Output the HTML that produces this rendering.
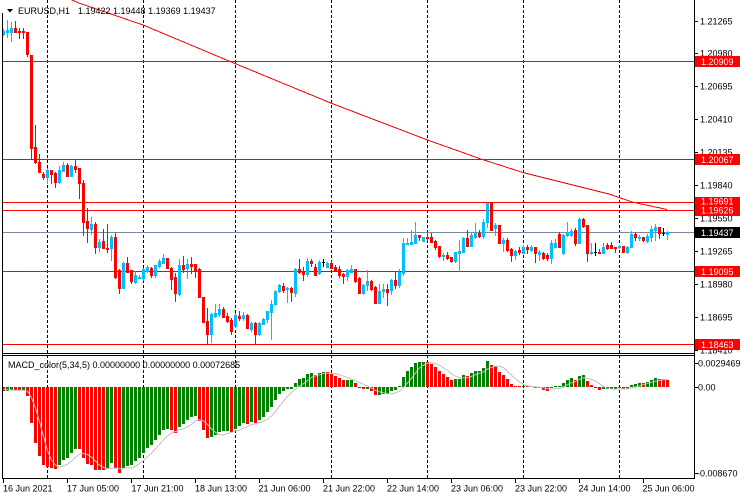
<!DOCTYPE html>
<html>
<head>
<meta charset="utf-8">
<style>
html,body{margin:0;padding:0;background:#fff;}
svg{display:block;}
text{font-family:"Liberation Sans",Arial,sans-serif;font-size:9px;fill:#000;}
</style>
</head>
<body>
<svg id="chart" width="740" height="500" viewBox="0 0 740 500" xmlns="http://www.w3.org/2000/svg">
<defs>
<clipPath id="cpMain"><rect x="3" y="0" width="691" height="353"/></clipPath>
<clipPath id="cpMacd"><rect x="3" y="356" width="691" height="122"/></clipPath>
</defs>
<rect x="0" y="0" width="740" height="500" fill="#fff"/>

<!-- vertical grid -->
<g stroke="#000" stroke-width="1" stroke-dasharray="3,2" shape-rendering="crispEdges">
<line x1="47.5" y1="0" x2="47.5" y2="478"/>
<line x1="143.5" y1="0" x2="143.5" y2="478"/>
<line x1="235.5" y1="0" x2="235.5" y2="478"/>
<line x1="331.5" y1="0" x2="331.5" y2="478"/>
<line x1="427.5" y1="0" x2="427.5" y2="478"/>
<line x1="523.5" y1="0" x2="523.5" y2="478"/>
<line x1="619.5" y1="0" x2="619.5" y2="478"/>
</g>

<!-- horizontal level lines -->
<g stroke-width="1" shape-rendering="crispEdges">
<line x1="3" y1="61.5" x2="694" y2="61.5" stroke="#FF0000"/>
<line x1="3" y1="159.5" x2="694" y2="159.5" stroke="#FF0000"/>
<line x1="3" y1="202.5" x2="694" y2="202.5" stroke="#FF0000"/>
<line x1="3" y1="210.5" x2="694" y2="210.5" stroke="#FF0000"/>
<line x1="3" y1="271.5" x2="694" y2="271.5" stroke="#FF0000"/>
<line x1="3" y1="344.5" x2="694" y2="344.5" stroke="#FF0000"/>
<line x1="3" y1="232.5" x2="694" y2="232.5" stroke="#778899"/>
</g>

<!-- moving average -->
<g clip-path="url(#cpMain)">
<polyline fill="none" stroke="#FF0000" stroke-width="1" shape-rendering="crispEdges"
points="70,-1 78,2.7 143,25 232,62.3 331.5,103.3 427.5,140 481.7,159.3 523.5,172.7 610,194.3 632,202 667,209.5"/>
<g id="candles" shape-rendering="crispEdges"></g>
</g>

<g clip-path="url(#cpMacd)">
<g id="macd" shape-rendering="crispEdges"></g>
<polyline id="sig" fill="none" stroke="#C0C0C0" stroke-width="1" points=""/>
</g>

<!-- frames -->
<g stroke="#000" stroke-width="1" shape-rendering="crispEdges">
<line x1="2.5" y1="13" x2="2.5" y2="479"/>
<line x1="694.5" y1="0" x2="694.5" y2="479"/>
<line x1="2" y1="353.5" x2="695" y2="353.5"/>
<line x1="2" y1="355.5" x2="695" y2="355.5"/>
<line x1="2" y1="478.5" x2="695" y2="478.5"/>
<!-- price ticks -->
<line x1="694" y1="21.5" x2="698" y2="21.5"/>
<line x1="694" y1="53.5" x2="698" y2="53.5"/>
<line x1="694" y1="86.5" x2="698" y2="86.5"/>
<line x1="694" y1="119.5" x2="698" y2="119.5"/>
<line x1="694" y1="152.5" x2="698" y2="152.5"/>
<line x1="694" y1="185.5" x2="698" y2="185.5"/>
<line x1="694" y1="218.5" x2="698" y2="218.5"/>
<line x1="694" y1="251.5" x2="698" y2="251.5"/>
<line x1="694" y1="284.5" x2="698" y2="284.5"/>
<line x1="694" y1="317.5" x2="698" y2="317.5"/>
<line x1="694" y1="350.5" x2="698" y2="350.5"/>
<line x1="694" y1="363.5" x2="698" y2="363.5"/>
<line x1="694" y1="387.5" x2="698" y2="387.5"/>
<line x1="694" y1="473.5" x2="698" y2="473.5"/>
<!-- time ticks -->
<line x1="3.5" y1="478" x2="3.5" y2="483"/>
<line x1="67.5" y1="478" x2="67.5" y2="483"/>
<line x1="131.5" y1="478" x2="131.5" y2="483"/>
<line x1="195.5" y1="478" x2="195.5" y2="483"/>
<line x1="259.5" y1="478" x2="259.5" y2="483"/>
<line x1="323.5" y1="478" x2="323.5" y2="483"/>
<line x1="387.5" y1="478" x2="387.5" y2="483"/>
<line x1="451.5" y1="478" x2="451.5" y2="483"/>
<line x1="515.5" y1="478" x2="515.5" y2="483"/>
<line x1="579.5" y1="478" x2="579.5" y2="483"/>
<line x1="643.5" y1="478" x2="643.5" y2="483"/>
</g>

<!-- price axis labels -->
<g>
<text x="700" y="24.3">1.21265</text>
<text x="700" y="56.3">1.20980</text>
<text x="700" y="89.3">1.20695</text>
<text x="700" y="122.3">1.20410</text>
<text x="700" y="155.3">1.20135</text>
<text x="700" y="188.3">1.19840</text>
<text x="700" y="221.3">1.19550</text>
<text x="700" y="254.3">1.19265</text>
<text x="700" y="287.3">1.18980</text>
<text x="700" y="320.3">1.18695</text>
<text x="700" y="353.3">1.18410</text>
</g>
<g shape-rendering="crispEdges">
<rect x="695" y="56" width="45" height="11" fill="#FF0000"/>
<rect x="695" y="154" width="45" height="11" fill="#FF0000"/>
<rect x="695" y="197" width="45" height="11" fill="#FF0000"/>
<rect x="695" y="205" width="45" height="11" fill="#FF0000"/>
<rect x="695" y="266" width="45" height="11" fill="#FF0000"/>
<rect x="695" y="339" width="45" height="11" fill="#FF0000"/>
<rect x="695" y="227" width="45" height="11" fill="#000"/>
</g>
<g style="fill:#fff">
<text x="701" y="64.8" style="fill:#fff">1.20909</text>
<text x="701" y="162.8" style="fill:#fff">1.20067</text>
<text x="701" y="204.3" style="fill:#fff">1.19691</text>
<text x="701" y="213.6" style="fill:#fff">1.19626</text>
<text x="701" y="274.8" style="fill:#fff">1.19095</text>
<text x="701" y="347.8" style="fill:#fff">1.18463</text>
<text x="701" y="235.8" style="fill:#fff">1.19437</text>
</g>

<!-- macd axis labels -->
<text x="698" y="366.5">0.0029469</text>
<text x="698" y="390.5">0.00</text>
<text x="697" y="476.5">-0.008670</text>

<!-- time labels -->
<g>
<text x="3" y="491.5">16 Jun 2021</text>
<text x="67" y="491.5">17 Jun 05:00</text>
<text x="131.5" y="491.5">17 Jun 21:00</text>
<text x="195" y="491.5">18 Jun 13:00</text>
<text x="258.5" y="491.5">21 Jun 06:00</text>
<text x="323" y="491.5">21 Jun 22:00</text>
<text x="387" y="491.5">22 Jun 14:00</text>
<text x="451" y="491.5">23 Jun 06:00</text>
<text x="515" y="491.5">23 Jun 22:00</text>
<text x="578.5" y="491.5">24 Jun 14:00</text>
<text x="642.5" y="491.5">25 Jun 06:00</text>
</g>

<!-- header -->
<polygon points="7,9 13,9 10,12.5" fill="#000"/>
<text x="18" y="14">EURUSD,H1</text>
<text x="78" y="14">1.19422 1.19448 1.19369 1.19437</text>
<text x="8" y="368">MACD_color(5,34,5) 0.00000000 0.00000000 0.00072685</text>
</svg>

<script>
(function(){
var D = "u 31 34 29 35|u 29.7 32.3 20 37|u 28 32 22.3 41|d 28 32 21 32|d 30.5 31.5 27.7 38|d 30.5 31.5 27.7 37.7|d 31.7 54.3 31.7 55.7|d 55 147.7 55 158|d 147 162 125 163|d 161.7 171.7 154 172|" +
"d 174 176.7 171.7 179|u 170 176.7 168 183|d 170 174 170 183|d 172.7 181.7 171.7 186.7|u 170 181.7 166 182.7|u 165 170.7 161.7 170.7|d 165 175.7 162.7 175.7|u 165.7 175.7 165 175.7|d 166 169 159.3 172.3|d 167.7 183.3 167.7 198.3|" +
"d 182.7 221.7 180 235|d 220.7 228.3 208.3 241.7|u 224 229 216.7 234.3|d 224 246.7 221.7 253.3|u 242.3 246.7 239 250.7|d 241 247.7 229.3 248.3|d 247.5 248.5 224 252.3|u 236.7 248.3 235 260|d 236.7 276.7 233.3 278.3|d 270 288.3 269 293.3|" +
"u 263.3 288.3 261.7 288.3|d 263.3 271.7 256.7 271.7|d 270 280.7 270 283.3|u 275 281.7 270.7 282.7|u 276.7 278.3 275 278.3|u 269 278.3 268.3 280|u 267.3 270.7 265 271.7|d 268.3 275 266.7 276.7|u 265 275 265 276.7|u 261 266 259.3 266.7|" +
"u 258.3 262.7 254 262.7|d 258.3 268.3 258.3 268.3|d 267.7 279 266.7 289|d 277.3 293.3 272.7 300.7|u 265 294 259.3 295|d 265 269.3 256 271.7|u 264 268.3 259.3 277.7|d 264 265.7 256.7 273.3|d 264 270 264 277.3|d 269.3 297.3 268 297.3|" +
"d 296.7 321.7 296.7 321.7|d 320.7 334 307.7 344|u 314.3 334 313.3 341.7|u 312.7 316 304 316.7|u 309 314 304 316|d 309 316.7 306.7 317.3|d 316 320.7 313.3 321.7|d 320 330.7 318.3 334|u 315 326 312.7 327.3|d 316 317.7 311 320|" +
"u 315 317.7 311.7 320|d 315 328.3 314 328.3|u 323.3 329 321.7 330.7|d 322.7 334.3 321.7 344|u 322.7 334.3 321.7 335|u 319 324 317.7 324|u 311 319.3 311 322.3|u 304 311.7 300 339|u 291 304.3 290 305|u 285 291 284.3 291.7|" +
"d 286 290 283.3 291.7|u 288 289 286.7 301.7|d 288.3 291.7 287.3 300.7|u 269.3 293.3 268.3 296|d 269.3 271.7 259.3 272.7|d 271 274 267.3 280|u 260.7 274 258.3 276|d 260.7 263.3 259.3 266|d 267.3 275 264 275|u 261.7 273.3 260 274|" +
"x 261.7 261.7 259 265.7|u 262.7 266.7 261.7 267.3|d 262.7 268.3 260.7 268.3|d 267.3 270 265 270.7|d 269 275 266 277.3|d 274 276 273.3 282.7|u 270 276 269.3 280|u 269.3 271.7 265 271.7|d 269.3 280.7 269.3 281.7|d 278.3 293.3 276.7 293.3|" +
"u 285 292.7 284 294|u 281 285 270 290|d 281 289.3 280 290|d 287.3 302.7 286 303.3|u 291 302.7 284.3 303.3|u 289.3 290.7 284 296.7|d 289.3 291.7 284 305|u 280 290 279.3 294|d 280 285 271.7 288.3|u 271.7 285 269.3 286.7|" +
"u 243.3 272.7 238.3 275|u 242.7 244 238.3 244|u 241.7 244 230 244|u 235 242.7 221.7 243.3|d 235 237.3 235 240|u 237.3 240.7 237.3 240.7|d 237.3 238.3 233.3 240|d 237.3 241.7 233.3 241.7|d 240.7 246.7 240 249.3|d 246 256 246 256.7|" +
"u 255 256 253.3 260|d 255 258.3 251.7 259.3|d 257.3 260.7 257.3 261.7|u 251.7 260.7 251.7 261.7|u 250.7 252.7 240 270.7|u 238.3 251.7 237.3 251.7|d 238.3 246 230 246|u 235 246 233.3 246|u 232.7 236.7 223.3 238.3|d 232.7 236 230 236.7|" +
"u 221.7 236 219.3 238.3|u 202.7 221.7 201.7 226.7|d 202.7 230 201.7 230|u 225 228.3 223.3 235|d 225 243.3 225 243.3|u 240 242.7 238.3 250.7|d 240 250 238.3 250.7|d 249.3 255 248.3 260.7|u 251 255 250 259.3|d 250 251.7 247.3 254|" +
"u 246.7 252.7 245 253.3|d 246.7 249.3 245 253.3|u 246.7 250 245 251|d 246.7 252.7 246.7 261.7|u 251.7 254 250 260|d 252.7 258.3 251.7 259.3|d 255 258.3 253.3 260|u 243.3 258.3 240 263.3|u 243.3 246.7 239.3 247.3|d 234.3 246.7 231.7 246.7|" +
"u 235 253.3 234.3 254|u 231.7 235 221.7 235.7|u 230.7 235 229.3 235.7|d 230 242.7 228.3 245|u 219.3 242.7 218.3 243.3|d 219.3 226 218.3 226.7|d 225 253.3 225 260.7|u 251.7 253.3 243.3 254|x 252.3 252.3 243.3 255|d 251.7 253.3 249.3 253.3|" +
"u 247.3 252.7 243.3 252.7|d 245 248.3 243.3 249.3|d 245 247.7 241.7 248.3|d 247.3 248.3 247.3 251.7|u 245.7 247.3 245 248.3|d 245.7 251.7 245.7 252.3|u 246.7 252.3 246 253.3|u 234.3 247.3 231 247.3|d 234.3 237.3 231.7 240|u 236.7 237.7 235 240|" +
"d 236.7 240 236.7 240.7|u 235.7 240.7 234.3 241.7|u 229.3 236.7 226 240.7|u 226.7 230 224.3 240|d 226.7 233.3 226.7 238.3|x 232.5 232.5 228.3 235|u 232 233.5 230.7 239.3";
var rows = D.split("|");
var ch = "";
var closes = [];
var R = Math.round;
for (var i = 0; i < rows.length; i++) {
  var p = rows[i].split(" ");
  var t = p[0], a = +p[1], b = +p[2], h = +p[3], l = +p[4];
  var col = t === "u" ? "#00BFFF" : (t === "d" ? "#FF0000" : "#000000");
  var cx = 3 + 4 * i;
  var hy = R(h), ly = R(l);
  ch += '<rect x="' + cx + '" y="' + hy + '" width="1" height="' + Math.max(1, ly - hy + 1) + '" fill="' + col + '"/>';
  var ay = R(a), by = R(b);
  ch += '<rect x="' + (cx - 1) + '" y="' + ay + '" width="3" height="' + Math.max(1, by - ay + (t === "x" ? 0 : 1)) + '" fill="' + col + '"/>';
  closes.push(t === "u" ? a : b);
}
document.getElementById("candles").innerHTML = ch;

var k = 0.9114;
var e5 = 31.5, e34 = 26.4;
var a5 = 1 / 3, a34 = 2 / 35;
var hist = [-1, -1.5, -2, -2.5];
var prev = -4.0;
var mh = "", pts = [];
var Z = 387;
for (var j = 0; j < closes.length; j++) {
  var c = closes[j];
  e5 += a5 * (c - e5);
  e34 += a34 * (c - e34);
  var v = (e34 - e5) * k;
  hist.push(v);
  var n = hist.length, s = 0;
  for (var q = n - 5; q < n; q++) s += hist[q];
  var sig = s / 5;
  var col2 = v > prev ? "#008000" : "#FF0000";
  prev = v;
  var x = 2 + 4 * j, y, hh;
  if (v >= 0) { hh = Math.max(1, R(v)); y = Z - hh; }
  else { hh = Math.max(1, R(-v)); y = Z; }
  mh += '<rect x="' + x + '" y="' + y + '" width="3" height="' + hh + '" fill="' + col2 + '"/>';
  pts.push((3.5 + 4 * j) + "," + (Z - sig).toFixed(1));
}
document.getElementById("macd").innerHTML = mh;
document.getElementById("sig").setAttribute("points", pts.join(" "));
})();
</script>
</body>
</html>
